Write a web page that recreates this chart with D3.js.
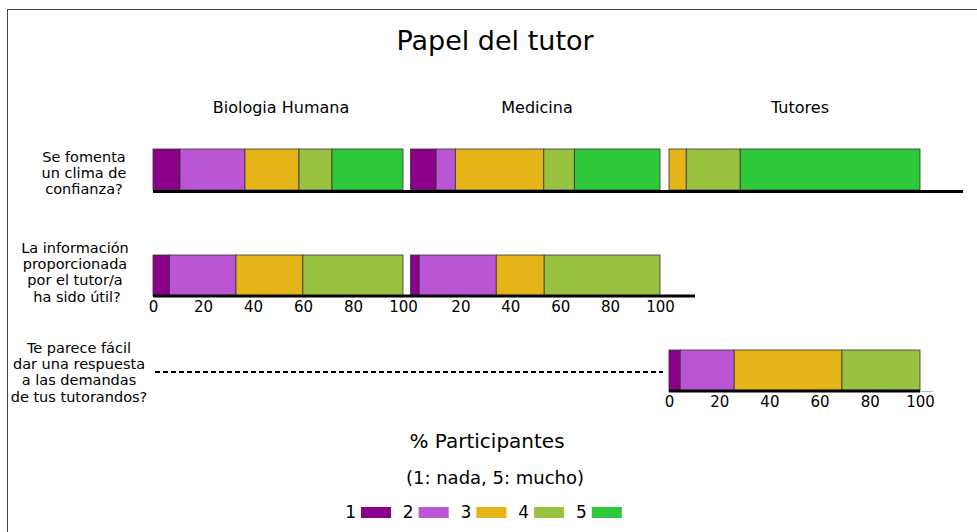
<!DOCTYPE html>
<html>
<head>
<meta charset="utf-8">
<script src="https://cdn.jsdelivr.net/npm/d3@7"></script>
<style>
  body { margin: 0; background: #fff; }
  svg text { font-family: "DejaVu Sans", sans-serif; fill: #000; }
</style>
</head>
<body>
<div id="chart"></div>
<script>
var width = 977,
  height = 532;

// answer levels (1: nada, 5: mucho)
var levels = ["1", "2", "3", "4", "5"];
var colors = ["#8b008b", "#ba55d3", "#e5b418", "#9ac241", "#2dc93a"];
var groups = ["Biologia Humana", "Medicina", "Tutores"];
var questions = [
  ["Se fomenta", "un clima de", "confianza?"],
  ["La información", "proporcionada", "por el tutor/a", "ha sido útil?"],
  ["Te parece fácil", "dar una respuesta", "a las demandas", "de tus tutorandos?"]
];
// % of participants per level, one list per group; null = not asked
var bioValues = [[10.8, 26.0, 21.6, 13.2, 28.4], [6.6, 26.6, 26.7, 40.1, 0], null];
var medValues = [[10.3, 7.7, 35.4, 12.3, 34.3], [3.5, 30.9, 19.2, 46.4, 0], null];
var tutValues = [[0, 0, 6.9, 21.5, 71.6], null, [4.5, 21.5, 42.9, 31.1, 0]];
var ticks = [0, 20, 40, 60, 80, 100];

var values = [bioValues, medValues, tutValues];

var svg = d3.select("#chart").append("svg")
  .attr("width", width)
  .attr("height", height);

svg.append("rect")
  .attr("x", 7.5).attr("y", 9.5)
  .attr("width", width).attr("height", height)
  .attr("fill", "none")
  .attr("stroke", "#444")
  .attr("stroke-width", 1);

svg.append("text")
  .attr("x", 495).attr("y", 50)
  .attr("text-anchor", "middle")
  .style("font-size", "27px")
  .text("Papel del tutor");

var x = [
  d3.scaleLinear().domain([0, 100]).range([153, 403]),
  d3.scaleLinear().domain([0, 100]).range([410.5, 660]),
  d3.scaleLinear().domain([0, 100]).range([669, 920])
];
var titleX = [281, 537, 800];

// row tops
var rowTop = [149, 255, 350];
var barH = 41;

groups.forEach(function (g, gi) {
  svg.append("text")
    .attr("x", titleX[gi]).attr("y", 113)
    .attr("text-anchor", "middle")
    .style("font-size", "16px")
    .text(g);
});

var labelX = [84, 75, 79];
var labelY = [157, 248, 348];
questions.forEach(function (lines, qi) {
  var t = svg.append("text")
    .attr("text-anchor", "middle")
    .style("font-size", "14.5px");
  lines.forEach(function (l, li) {
    t.append("tspan")
      .attr("x", labelX[qi] + (qi == 1 && li == lines.length - 1 ? 2 : 0))
      .attr("y", labelY[qi] + 5 + li * 16.2)
      .text(l);
  });
});

// stacked bars
values.forEach(function (gv, gi) {
  gv.forEach(function (row, qi) {
    if (!row) return;
    var acc = 0;
    var segs = row.map(function (v, i) {
      var s = { x0: acc, x1: acc + v, i: i };
      acc += v;
      return s;
    }).filter(function (s) { return s.x1 > s.x0; });
    svg.append("g").selectAll("rect")
      .data(segs)
      .enter().append("rect")
        .attr("x", function (d) { return x[gi](d.x0); })
        .attr("y", rowTop[qi])
        .attr("width", function (d) { return x[gi](d.x1) - x[gi](d.x0); })
        .attr("height", barH)
        .attr("fill", function (d) { return colors[d.i]; })
        .attr("stroke", "#333")
        .attr("stroke-opacity", 0.8)
        .attr("stroke-width", 1);
  });
});

// baselines
function baseline(x1, x2, yy, w, c) {
  svg.append("line")
    .attr("x1", x1).attr("x2", x2)
    .attr("y1", yy).attr("y2", yy)
    .attr("stroke", c).attr("stroke-width", w);
}
baseline(x[0](0), 963, 191.5, 3, "#000");
baseline(x[0](0), 695, 296, 3, "#000");
baseline(x[2](100), 933, 391.5, 1, "#bbb");
baseline(x[2](0), x[2](100), 391, 3, "#000");

// dashed line for the question not asked to students
svg.append("line")
  .attr("x1", 155).attr("x2", 663)
  .attr("y1", 372).attr("y2", 372)
  .attr("stroke", "#000").attr("stroke-width", 2)
  .attr("stroke-dasharray", "5,3");

// axes
function axis(gi, yy, tv) {
  var a = svg.append("g")
    .attr("transform", "translate(0," + yy + ")")
    .call(d3.axisBottom(x[gi]).tickValues(tv).tickSize(0).tickPadding(4));
  a.select(".domain").remove();
  a.selectAll("text")
    .style("font-size", "15px")
    .style("font-family", "DejaVu Sans, sans-serif")
    .attr("fill", "#000");
}
axis(0, 297, ticks);
axis(1, 297, ticks.slice(1));
axis(2, 392, ticks);

svg.append("text")
  .attr("x", 487).attr("y", 448)
  .attr("text-anchor", "middle")
  .style("font-size", "20px")
  .text("% Participantes");

svg.append("text")
  .attr("x", 495).attr("y", 484)
  .attr("text-anchor", "middle")
  .style("font-size", "18px")
  .text("(1: nada, 5: mucho)");

// legend
var legend = svg.append("g").selectAll("g")
  .data(levels)
  .enter().append("g")
    .attr("transform", function (d, i) { return "translate(" + (361 + i * 57.7) + ",507)"; });
legend.append("rect")
  .attr("width", 30).attr("height", 11)
  .attr("fill", function (d, i) { return colors[i]; });
legend.append("text")
  .attr("x", -5).attr("y", 11)
  .attr("text-anchor", "end")
  .style("font-size", "17px")
  .text(function (d) { return d; });
</script>
</body>
</html>
